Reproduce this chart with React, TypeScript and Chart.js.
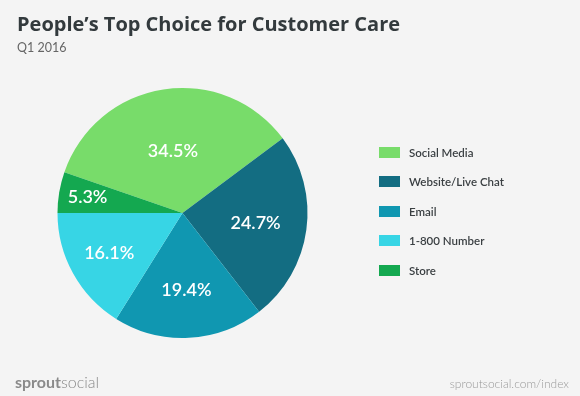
import React, { useEffect, useRef } from "react";
import { Chart, registerables } from "chart.js";

Chart.register(...registerables);

const categories = ["Social Media", "Website/Live Chat", "Email", "1-800 Number", "Store"];
const shares = [34.5, 24.7, 19.4, 16.1, 5.3];
const colors = ["#78DC6A", "#136D82", "#1097B1", "#37D5E5", "#14A850"];
const labelRadius = [0.5, 0.59, 0.62, 0.67, 0.77];

const FONT = "Lato, 'Open Sans', sans-serif";

const labelPlugin = {
  id: "sliceLabels",
  afterDatasetsDraw(chart: any) {
    const ctx = chart.ctx;
    const meta = chart.getDatasetMeta(0);
    ctx.save();
    ctx.fillStyle = "#ffffff";
    ctx.font = `600 18px ${FONT}`;
    ctx.textAlign = "center";
    ctx.textBaseline = "middle";
    meta.data.forEach((arc: any, i: number) => {
      const p = arc.getProps(["x", "y", "startAngle", "endAngle", "outerRadius"], true);
      const mid = (p.startAngle + p.endAngle) / 2;
      const r = p.outerRadius * labelRadius[i];
      ctx.fillText(shares[i].toFixed(1) + "%", p.x + Math.cos(mid) * r, p.y + Math.sin(mid) * r);
    });
    ctx.restore();
  },
};

export default function App() {
  const ref = useRef<HTMLCanvasElement>(null);
  useEffect(() => {
    document.body.style.margin = "0";
    const chart = new Chart(ref.current!, {
      type: "pie",
      data: {
        labels: categories,
        datasets: [{ data: shares, backgroundColor: colors, borderWidth: 0 }],
      },
      options: {
        animation: false,
        responsive: false,
        rotation: -70.92,
        layout: { padding: { left: 57.5, top: 88, right: 272.5, bottom: 58 } },
        plugins: { legend: { display: false }, tooltip: { enabled: false } },
      },
      plugins: [labelPlugin],
    });
    return () => chart.destroy();
  }, []);

  return (
    <div style={{ position: "relative", width: 580, height: 396, background: "#F4F4F4", fontFamily: FONT, overflow: "hidden" }}>
      <canvas ref={ref} width={580} height={396} style={{ position: "absolute", left: 0, top: 0 }} />
      <div style={{ position: "absolute", left: 17, top: 10, fontSize: 20, fontWeight: 700, color: "#333A3D", fontFamily: "'Open Sans', sans-serif", whiteSpace: "nowrap" }}>
        People’s Top Choice for Customer Care
      </div>
      <div style={{ position: "absolute", left: 17, top: 40, fontSize: 12.5, color: "#666" }}>Q1 2016</div>
      {categories.map((c, i) => (
        <div key={c} style={{ position: "absolute", left: 379, top: 146 + i * 29.5, height: 12, display: "flex", alignItems: "center" }}>
          <div style={{ width: 21, height: 11, background: colors[i] }} />
          <span style={{ marginLeft: 9, fontSize: 11.5, fontWeight: 600, color: "#3A3F42", whiteSpace: "nowrap" }}>{c}</span>
        </div>
      ))}
      <div style={{ position: "absolute", left: 15, top: 372, fontSize: 16, color: "#8A8A8A", whiteSpace: "nowrap" }}>
        <span style={{ fontWeight: 700 }}>sprout</span>
        <span style={{ fontWeight: 300 }}>social</span>
      </div>
      <div style={{ position: "absolute", right: 11, top: 376, fontSize: 12, color: "#9A9A9A", fontWeight: 300, whiteSpace: "nowrap" }}>
        sproutsocial.com/index
      </div>
    </div>
  );
}
